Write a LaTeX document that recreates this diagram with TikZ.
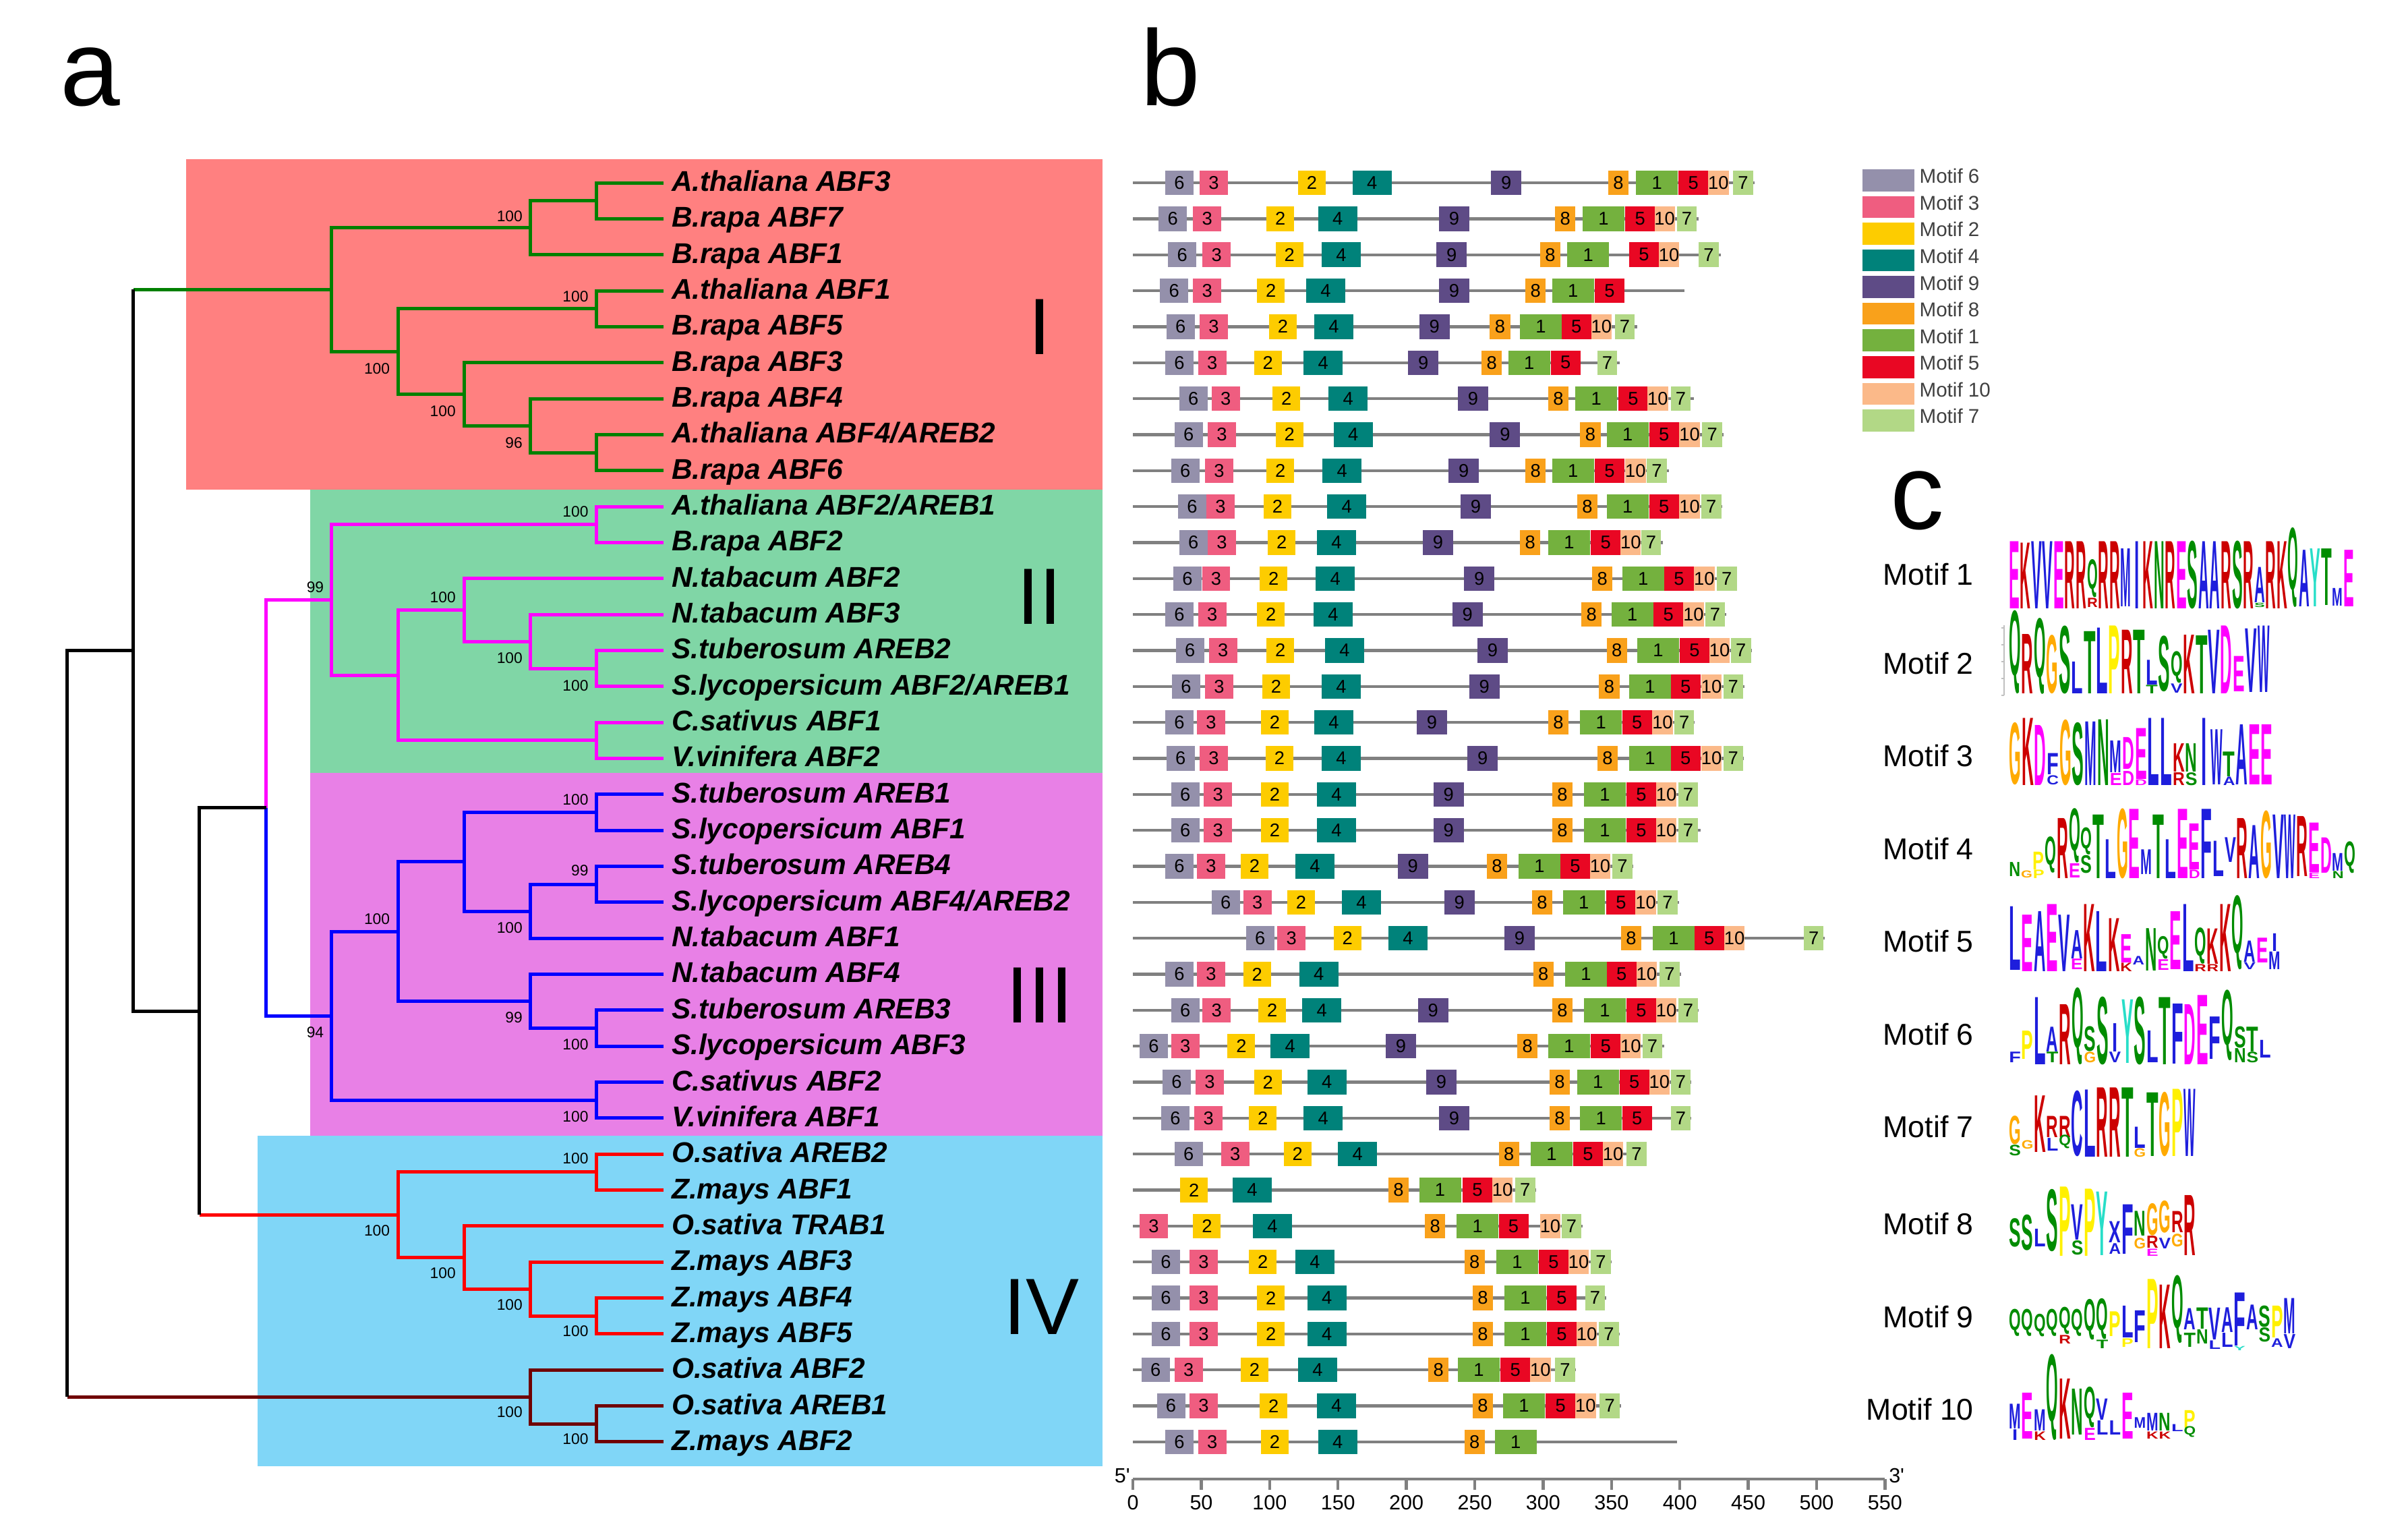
\documentclass[tikz,border=0pt]{standalone}
\usepackage{fontspec}
\setmainfont{Liberation Sans}
\usepackage{graphicx}
\usetikzlibrary{calc}
% clade backgrounds
\definecolor{cI}{RGB}{255,128,128}
\definecolor{cII}{RGB}{128,214,166}
\definecolor{cIII}{RGB}{232,128,230}
\definecolor{cIV}{RGB}{128,214,247}
% tree colours
\definecolor{tgreen}{RGB}{0,128,0}
\definecolor{tmag}{RGB}{255,0,255}
\definecolor{tblue}{RGB}{0,0,255}
\definecolor{tred}{RGB}{255,0,0}
\definecolor{tdark}{RGB}{112,0,0}
% motif colours
\definecolor{mc1}{RGB}{116,177,62}
\definecolor{mc2}{RGB}{253,204,0}
\definecolor{mc3}{RGB}{239,93,128}
\definecolor{mc4}{RGB}{0,130,122}
\definecolor{mc5}{RGB}{233,7,35}
\definecolor{mc6}{RGB}{148,144,171}
\definecolor{mc7}{RGB}{178,216,134}
\definecolor{mc8}{RGB}{249,161,27}
\definecolor{mc9}{RGB}{94,75,134}
\definecolor{mc10}{RGB}{251,185,137}
\definecolor{mgray}{RGB}{128,128,128}
\definecolor{legtext}{RGB}{64,64,64}
% logo colours
\definecolor{lgblue}{RGB}{30,30,220}
\definecolor{lggreen}{RGB}{0,140,0}
\definecolor{lgmag}{RGB}{255,0,255}
\definecolor{lgred}{RGB}{204,0,0}
\colorlet{lgA}{lgblue}\colorlet{lgC}{lgblue}\colorlet{lgF}{lgblue}\colorlet{lgI}{lgblue}
\colorlet{lgL}{lgblue}\colorlet{lgM}{lgblue}\colorlet{lgV}{lgblue}\colorlet{lgW}{lgblue}\colorlet{lgX}{lgblue}
\colorlet{lgN}{lggreen}\colorlet{lgQ}{lggreen}\colorlet{lgS}{lggreen}\colorlet{lgT}{lggreen}
\colorlet{lgD}{lgmag}\colorlet{lgE}{lgmag}
\colorlet{lgK}{lgred}\colorlet{lgR}{lgred}
\definecolor{lgG}{RGB}{255,170,0}
\definecolor{lgP}{RGB}{255,240,0}
\definecolor{lgY}{RGB}{40,222,200}
\definecolor{lgH}{RGB}{255,160,160}

\tikzset{
  tree/.style={line width=1.1pt},
  leaflab/.style={anchor=base west, inner sep=0pt, font=\fontsize{9.3}{11}\selectfont\bfseries\itshape},
  boot/.style={anchor=east, inner sep=0pt, font=\fontsize{5}{6}\selectfont},
  roman/.style={inner sep=0pt, font=\fontsize{26}{30}\selectfont},
  panel/.style={anchor=base west, inner sep=0pt, font=\fontsize{35}{40}\selectfont},
  mline/.style={draw=mgray, line width=0.95pt},
  mnum/.style={inner sep=0pt, font=\fontsize{6}{7}\selectfont},
  axlab/.style={inner sep=0pt, font=\fontsize{6.7}{8}\selectfont},
  leg/.style={anchor=base west, inner sep=0pt, text=legtext, font=\fontsize{6.5}{8}\selectfont},
  mlab/.style={anchor=base east, inner sep=0pt, font=\fontsize{9.8}{12}\selectfont},
  lgl/.style={inner sep=0pt, outer sep=0pt, anchor=south west}
}

\newcommand\mrow[3]{%
  \draw[mline] (737.7,{ry(#1)}) -- (#2,{ry(#1)});
  \foreach \m/\x in {#3}{%
    \fill[fill=mc\m] (\x,{ry(#1)-8}) rectangle ({\x+mw(\m)},{ry(#1)+8});
    \node[mnum] (b#1m\m) at ({\x+mw(\m)/2},{ry(#1)}) {\m};
  }}

\def\lgtmpI{I}
\newcommand\lgletter[1]{\edef\lgtmpa{#1}\ifx\lgtmpa\lgtmpI\makebox[0.6em]{I}\else#1\fi}
\newcommand\seqlogo[5]{%
  \pgfmathsetmacro\lgw{#4*0.5*0.95}%
  \foreach \lt/\lb/\lh [count=\i from 0] in {#5}{%
    \pgfmathsetmacro\hh{\lh*23}%
    \node[lgl] (#1-\i) at ({#2+(\i+0.025)*#4},{#3-\lb*46}) {\resizebox{\lgw pt}{\hh pt}{\bfseries\color{lg\lt}\lgletter{\lt}}};
  }}
\newcommand\lgx[5]{%
  \pgfmathsetmacro\lgw{#4*0.5*0.95}%
  \foreach \lt/\lc/\lb/\lh [count=\i] in {#5}{%
    \pgfmathsetmacro\hh{\lh*23}%
    \node[lgl] (#1x-\i) at ({#2+(\lc+0.025)*#4},{#3-\lb*46}) {\resizebox{\lgw pt}{\hh pt}{\bfseries\color{lg\lt}\lgletter{\lt}}};
  }}

\begin{document}
\begin{tikzpicture}[x=0.5pt,y=-0.5pt,
  declare function={ry(\q)=119+(\q-1)*23.42;
    mw(\q)=(\q==1)*27.2+(\q==2)*18+(\q==3)*18.4+(\q==4)*25.5+(\q==5)*19.3+(\q==6)*18.4+(\q==7)*13+(\q==8)*13.3+(\q==9)*19.8+(\q==10)*13.3;}]
\useasboundingbox (0,0) rectangle (1568,998);

% ---------- panel labels
\node[panel] (pa) at (39,68.5) {a};
\node[panel] (pb) at (742.5,68.5) {b};
\node[panel] (pc) at (1230.7,344.5) {c};

% ---------- clade backgrounds
\fill[cI] (121.1,103.7) rectangle (718,318.7);
\fill[cII] (201.9,318.7) rectangle (718,503);
\fill[cIII] (201.9,503) rectangle (718,739.5);
\fill[cIV] (167.7,739.5) rectangle (718,954.6);

\node[roman] (rI) at (677,212.8) {I};
\node[roman] (rII) at (677,388.6) {II};
\node[roman] (rIII) at (677,648) {III};
\node[roman] (rIV) at (678,851) {IV};

% ---------- leaves
\foreach \i in {1,...,36} \coordinate (l\i) at (432.1,{ry(\i)});
\foreach \lbl [count=\i] in {A.thaliana ABF3,B.rapa ABF7,B.rapa ABF1,A.thaliana ABF1,B.rapa ABF5,B.rapa ABF3,B.rapa ABF4,A.thaliana ABF4/AREB2,B.rapa ABF6,A.thaliana ABF2/AREB1,B.rapa ABF2,N.tabacum ABF2,N.tabacum ABF3,S.tuberosum AREB2,S.lycopersicum ABF2/AREB1,C.sativus ABF1,V.vinifera ABF2,S.tuberosum AREB1,S.lycopersicum ABF1,S.tuberosum AREB4,S.lycopersicum ABF4/AREB2,N.tabacum ABF1,N.tabacum ABF4,S.tuberosum AREB3,S.lycopersicum ABF3,C.sativus ABF2,V.vinifera ABF1,O.sativa AREB2,Z.mays ABF1,O.sativa TRAB1,Z.mays ABF3,Z.mays ABF4,Z.mays ABF5,O.sativa ABF2,O.sativa AREB1,Z.mays ABF2}
  \node[leaflab] (t\i) at (437,{ry(\i)+5.5}) {\lbl};

% ---------- internal nodes
\coordinate (nA) at (388.2,130.71);
\coordinate (nB) at (345.2,148.28);
\coordinate (nC) at (388.2,200.97);
\coordinate (nD) at (388.2,294.65);
\coordinate (nE) at (345.2,277.09);
\coordinate (nF) at (302.2,256.6);
\coordinate (nG) at (259.2,228.78);
\coordinate (nH) at (215.8,188.53);
\coordinate (nI) at (388.2,341.49);
\coordinate (nJ) at (388.2,435.17);
\coordinate (nK) at (345.2,417.61);
\coordinate (nL) at (302.2,397.11);
\coordinate (nM) at (388.2,482.01);
\coordinate (nN) at (259.2,439.56);
\coordinate (nO) at (215.8,390.53);
\coordinate (nP) at (388.2,528.85);
\coordinate (nQ) at (388.2,575.69);
\coordinate (nR) at (345.2,593.26);
\coordinate (nS) at (302.2,561.06);
\coordinate (nT) at (388.2,669.37);
\coordinate (nU) at (345.2,651.81);
\coordinate (nV) at (259.2,606.44);
\coordinate (nW) at (388.2,716.21);
\coordinate (nX) at (215.8,661.33);
\coordinate (nY) at (173.3,525.93);
\coordinate (nZa) at (388.2,763.05);
\coordinate (nZb) at (388.2,856.73);
\coordinate (nZc) at (345.2,839.17);
\coordinate (nZd) at (302.2,818.67);
\coordinate (nZe) at (259.2,790.86);
\coordinate (nDa) at (388.2,926.99);
\coordinate (nDb) at (345.2,909.43);
\coordinate (N2) at (129.9,658.4);
\coordinate (N1) at (86.9,423.47);
\coordinate (R0) at (43.9,666.45);

% ---------- tree branches
\draw[tree,tgreen] (nH) |- (nB) (nH) |- (nG) (nB) |- (nA) (nB) |- (l3) (nA) |- (l1) (nA) |- (l2)
  (nG) |- (nC) (nG) |- (nF) (nC) |- (l4) (nC) |- (l5) (nF) |- (l6) (nF) |- (nE)
  (nE) |- (l7) (nE) |- (nD) (nD) |- (l8) (nD) |- (l9) (nH -| N1) -- (nH);
\draw[tree,tmag] (nY) |- (nO) (nO) |- (nI) (nO) |- (nN) (nI) |- (l10) (nI) |- (l11)
  (nN) |- (nL) (nN) |- (nM) (nL) |- (l12) (nL) |- (nK) (nK) |- (l13) (nK) |- (nJ)
  (nJ) |- (l14) (nJ) |- (l15) (nM) |- (l16) (nM) |- (l17);
\draw[tree,tblue] (nY) |- (nX) (nX) |- (nV) (nX) |- (nW) (nV) |- (nS) (nV) |- (nU)
  (nS) |- (nP) (nS) |- (nR) (nP) |- (l18) (nP) |- (l19) (nR) |- (nQ) (nR) |- (l22)
  (nQ) |- (l20) (nQ) |- (l21) (nU) |- (l23) (nU) |- (nT) (nT) |- (l24) (nT) |- (l25)
  (nW) |- (l26) (nW) |- (l27);
\draw[tree,tred] (nZe -| N2) -- (nZe) (nZe) |- (nZa) (nZe) |- (nZd) (nZa) |- (l28) (nZa) |- (l29)
  (nZd) |- (l30) (nZd) |- (nZc) (nZc) |- (l31) (nZc) |- (nZb) (nZb) |- (l32) (nZb) |- (l33);
\draw[tree,tdark] (nDb -| R0) -- (nDb) (nDb) |- (l34) (nDb) |- (nDa) (nDa) |- (l35) (nDa) |- (l36);
\draw[tree,black] (nH -| N1) -- (N1) -- (N2 -| N1) -- (N2);
\draw[tree,black] (nY) -- (nY -| N2) -- (nZe -| N2);
\draw[tree,black] (N1) -- (N1 -| R0) -- (nDb -| R0);

% ---------- bootstrap values
\foreach \x/\y/\v [count=\i] in {340.6/140.8/100,383.5/193.2/100,254.2/239.9/100,297.1/267.6/100,340.6/288.5/96,
  383.5/333.3/100,211.2/382.4/99,297.1/389/100,340.6/428.5/100,383.5/446.2/100,
  383.5/520.7/100,383.5/566.9/99,254.2/598.3/100,340.6/604.1/100,340.6/662.6/99,211.2/672/94,383.5/679.8/100,383.5/726.9/100,
  383.5/754.3/100,254.2/801.3/100,297.1/828.8/100,340.6/849.5/100,383.5/866.4/100,340.6/919.4/100,383.5/937/100}
  \node[boot] (bs\i) at (\x,\y) {\v};

% ---------- motif rows
\mrow{1}{1142.3}{6/758.7,3/781.1,2/845.2,4/880.7,9/970.9,8/1047.1,1/1065.3,5/1093,10/1112.3,7/1128.5}
\mrow{2}{1105.9}{6/754.5,3/776.9,2/824.7,4/858.3,9/937,8/1012.6,1/1030.5,5/1058.3,10/1077.3,7/1091.9}
\mrow{3}{1120.7}{6/760.6,3/783,2/830.6,4/860.6,9/935.3,8/1002.8,1/1020.5,5/1060.8,10/1080.1,7/1106.1}
\mrow{4}{1096.9}{6/755.3,3/776.9,2/818.6,4/850.5,9/937,8/993.3,1/1010.7,5/1038.4}
\mrow{5}{1066.1}{6/759.5,3/781.1,2/826.4,4/855.8,9/924.1,8/970.1,1/989.7,5/1016.8,10/1036.1,7/1051.5}
\mrow{6}{1054.9}{6/758.7,3/780.2,2/816.6,4/848.8,9/916.9,8/964.7,1/982.1,5/1009.8,7/1040.1}
\mrow{7}{1103.1}{6/767.9,3/788.9,2/828.7,4/865.1,9/949.3,8/1008.1,1/1025.8,5/1053.8,10/1072.8,7/1087.9}
\mrow{8}{1122.1}{6/764.8,3/786.4,2/830.6,4/868.4,9/970.1,8/1028.9,1/1046.2,5/1073.9,10/1093.5,7/1108.4}
\mrow{9}{1086.8}{6/762.6,3/784.7,2/824.7,4/861.1,9/943.2,8/993.3,1/1010.7,5/1038.4,10/1058.3,7/1072.3}
\mrow{10}{1121.5}{6/767.1,3/785.5,2/822.8,4/864.2,9/951,8/1026.9,1/1046.2,5/1073.9,10/1093.5,7/1107.8}
\mrow{11}{1082.9}{6/767.9,3/786.4,2/825.6,4/857.5,9/926.4,8/989.7,1/1008.1,5/1035.9,10/1055.2,7/1068.6}
\mrow{12}{1131.1}{6/764,3/782.7,2/820.3,4/856.7,9/953.3,8/1036.7,1/1056.3,5/1083.7,10/1103.1,7/1117.9}
\mrow{13}{1124.1}{6/758.7,3/780.2,2/818.6,4/855.3,9/945.7,8/1029.7,1/1049.3,5/1076.7,10/1096.1,7/1110.3}
\mrow{14}{1140.9}{6/765.7,3/787.2,2/824.7,4/862.8,9/962,8/1046.2,1/1066.1,5/1093.8,10/1113.1,7/1127.1}
\mrow{15}{1136.1}{6/763.1,3/784.7,2/822,4/860.6,9/956.6,8/1041.2,1/1060.8,5/1087.9,10/1107.8,7/1122.1}
\mrow{16}{1103.6}{6/758.7,3/779.4,2/821.1,4/855.8,9/922.5,8/1008.1,1/1028.9,5/1056.3,10/1075.9,7/1090.2}
\mrow{17}{1135.3}{6/759.5,3/781.1,2/824.2,4/860.6,9/955.5,8/1040.1,1/1060.8,5/1087.9,10/1107.8,7/1122.1}
\mrow{18}{1105.6}{6/762.6,3/783.9,2/821.1,4/857.5,9/933.4,8/1010.7,1/1031.4,5/1059.1,10/1078.4,7/1092.7}
\mrow{19}{1107.3}{6/762.6,3/783.9,2/821.1,4/857.5,9/933.4,8/1010.7,1/1031.4,5/1059.1,10/1078.4,7/1092.7}
\mrow{20}{1063.3}{6/758.7,3/779.4,2/807.9,4/843.5,9/910.1,8/968.1,1/988.8,5/1016,10/1035.3,7/1049.9}
\mrow{21}{1093.5}{6/788.9,3/809.6,2/838.2,4/873.7,9/940.4,8/997.5,1/1017.7,5/1045.9,10/1065,7/1079.3}
\mrow{22}{1188}{6/811.3,3/831.7,2/868.4,4/904,9/979.6,8/1055.5,1/1076.2,5/1103.3,10/1122.7,7/1174.5}
\mrow{23}{1094.7}{6/758.7,3/779.4,2/809.6,4/846,8/998.3,1/1019.1,5/1046.2,10/1065.5,7/1080.7}
\mrow{24}{1105.9}{6/762.6,3/783,2/819.4,4/848,9/923.3,8/1010.7,1/1031.4,5/1059.1,10/1078.4,7/1092.7}
\mrow{25}{1083.5}{6/742.1,3/762.6,2/799.3,4/827.3,9/902.3,8/988,1/1008.1,5/1035.9,10/1055.2,7/1069.5}
\mrow{26}{1101.4}{6/757,3/778.5,2/816.6,4/851.3,9/928.6,8/1009,1/1026.9,5/1054.6,10/1073.9,7/1087.9}
\mrow{27}{1101.4}{6/756.1,3/777.7,2/813.3,4/848.8,9/937,8/1009,1/1028.9,5/1056.3,7/1087.9}
\mrow{28}{1071.7}{6/764.8,3/795.1,2/835.9,4/871.2,8/975.9,1/996.7,5/1024.4,10/1043.7,7/1059.1}
\mrow{29}{1000.3}{2/768.5,4/802.6,8/904,1/924.1,5/952.4,10/971.7,7/986.6}
\mrow{30}{1030.5}{3/742.1,2/776.9,4/815.8,8/927.8,1/948.5,5/975.9,10/1002.8,7/1016.8}
\mrow{31}{1049.3}{6/750,3/774.6,2/813.3,4/843.5,8/953.5,1/974.3,5/1002,10/1021.3,7/1035.9}
\mrow{32}{1045.9}{6/750,3/774.6,2/818.6,4/851.3,8/958.9,1/979.6,5/1007.3,7/1032.2}
\mrow{33}{1054.9}{6/750,3/774.6,2/818.6,4/851.3,8/958.9,1/979.6,5/1007.3,10/1026.6,7/1041.2}
\mrow{34}{1026.1}{6/743.3,3/764.8,2/807.9,4/845.2,8/930,1/949.3,5/977.1,10/996.4,7/1012.6}
\mrow{35}{1055.5}{6/753.3,3/774.6,2/820.3,4/857.5,8/958.9,1/978.7,5/1006.5,10/1025.8,7/1041.7}
\mrow{36}{1092.1}{6/758.7,3/780.2,2/821.1,4/858.3,8/953.5,1/973.4}

% ---------- axis
\draw[mline] (737.7,963) -- (1227.4,963);
\foreach \k in {0,...,11}{
  \draw[mline] ({737.7+\k*44.52},963) -- ({737.7+\k*44.52},970);
  \pgfmathtruncatemacro\tv{\k*50}
  \node[axlab] (ax\k) at ({737.7+\k*44.52},978.2) {\tv};
}
\node[axlab] (five) at (730.8,960.8) {5\textquotesingle};
\node[axlab] (three) at (1235,960.8) {3\textquotesingle};

% ---------- legend
\foreach \m [count=\j from 0] in {6,3,2,4,9,8,1,5,10,7}{
  \fill[fill=mc\m] (1212.8,{110.2+\j*17.38}) rectangle (1246.6,{124.5+\j*17.38});
  \node[leg] (leg\m) at (1249.5,{119.3+\j*17.38}) {Motif \m};
}

% ---------- panel c labels
\foreach \m/\b in {1/381,2/438.9,3/498.9,4/559.8,5/619.8,6/680.3,7/740.5,8/803.7,9/864.4,10/924.6}
  \node[mlab] (ml\m) at (1285.5,\b) {Motif \m};

% ---------- sequence logos
\seqlogo{lo1}{1308}{396.3}{7.26}{E/0/.95,K/0/.93,V/0/.95,V/0/.95,E/0/.95,R/0/.95,R/0/.95,Q/.16/.42,R/0/.95,R/0/.95,M/.03/.82,I/0/.95,K/0/.95,N/0/.95,R/0/.95,E/0/.95,S/0/.95,A/0/.95,A/0/.95,R/0/.95,S/0/.95,R/0/.95,A/.09/.5,R/0/.95,K/0/.95,Q/.02/.88,A/.03/.8,Y/.03/.82,T/.05/.8,M/.04/.25,E/.03/.8}
\lgx{lo1}{1308}{396.3}{7.26}{R/7/.02/.13,S/22/.02/.06}
\draw[mgray!50,line width=0.4pt] (1305,407) -- (1305,452.7);
\foreach \k in {0,...,4} \draw[mgray!50,line width=0.4pt] (1303,{452.7-\k*11}) -- (1305,{452.7-\k*11});
\seqlogo{lo2}{1308}{452.7}{8.1}{Q/.02/.92,R/.02/.84,Q/.02/.84,G/.02/.82,S/.02/.95,L/.02/.45,T/.02/.88,L/.02/.93,P/.02/.96,R/.02/.9,T/.02/.9,L/.15/.35,S/.05/.78,Q/.17/.35,K/.02/.83,T/.02/.82,V/.02/.9,D/.02/.96,E/.05/.5,V/.04/.9,W/.04/.94}
\lgx{lo2}{1308}{452.7}{8.1}{T/11/.02/.12,V/13/.03/.13}
\seqlogo{lo3}{1308}{512.3}{8.2}{G/.03/.87,K/.02/.95,D/.02/.85,F/.17/.3,G/.02/.92,S/.02/.88,M/.02/.9,N/.02/.93,M/.2/.45,D/.25/.45,E/.11/.72,L/.02/.95,L/.02/.95,K/.21/.4,N/.21/.4,I/.02/.95,W/.03/.78,T/.15/.35,A/.03/.85,E/.03/.85,E/.03/.85}
\lgx{lo3}{1308}{512.3}{8.2}{C/3/.03/.13,E/8/.02/.17,D/9/.02/.2,D/10/.02/.08,R/13/.02/.18,S/14/.02/.18,A/17/.02/.12}
\seqlogo{lo4}{1308}{573}{7.8}{N/.05/.2,G/.03/.1,P/.15/.25,Q/.1/.4,R/.02/.85,Q/.25/.6,S/.1/.25,T/.02/.9,L/.02/.55,G/.02/.98,E/.02/.98,M/.08/.35,T/.02/.9,L/.02/.55,E/.02/.98,E/.15/.65,F/.02/.98,L/.05/.5,V/.25/.35,R/.02/.85,A/.02/.75,G/.02/.95,V/.02/.9,W/.02/.9,R/.05/.85,E/.11/.7,D/.1/.5,M/.13/.25,Q/.1/.35}
\lgx{lo4}{1308}{573}{7.8}{Q/6/.36/.3,E/5/.03/.2,D/15/.02/.12,P/2/.02/.12,E/25/.02/.08,N/27/.02/.1}
\seqlogo{lo5}{1308}{633.6}{8.05}{L/.04/.9,E/.02/.8,A/.02/.85,E/.02/.95,V/.02/.8,A/.21/.4,K/.02/.95,L/.02/.85,K/.02/.75,E/.15/.4,A/.12/.12,N/.03/.6,Q/.2/.25,E/.05/.82,L/.02/.95,Q/.13/.4,K/.13/.5,K/.02/.95,Q/.05/.82,A/.16/.3,E/.15/.35,M/.05/.25}
\lgx{lo5}{1308}{633.6}{8.05}{E/5/.05/.15,K/9/.02/.12,E/12/.04/.15,R/15/.02/.1,R/16/.02/.1,I/21/.31/.25,V/19/.05/.1}
\seqlogo{lo6}{1308}{694.2}{8.14}{F/.05/.15,P/.1/.4,L/.02/.95,A/.21/.35,R/.02/.85,Q/.02/.85,S/.21/.35,S/.02/.95,I/.21/.4,Y/.04/.9,S/.02/.95,L/.05/.45,T/.02/.95,F/.03/.85,D/.02/.85,E/.02/.98,F/.1/.6,Q/.08/.78,S/.26/.3,T/.21/.35,L/.12/.25}
\lgx{lo6}{1308}{694.2}{8.14}{T/3/.05/.15,G/6/.05/.15,V/8/.05/.15,N/18/.05/.2,S/19/.05/.15}
\seqlogo{lo7}{1308}{754.8}{8.13}{G/.21/.4,G/.15/.12,K/.1/.8,R/.31/.3,R/.31/.3,C/.04/.92,L/.03/.95,R/.03/.98,R/.03/.98,T/.03/.98,L/.16/.3,T/.04/.9,G/.04/.9,P/.04/.95,W/.04/.95}
\lgx{lo7}{1308}{754.8}{8.13}{L/3/.12/.18,Q/4/.15/.15,G/10/.03/.12,S/0/.05/.15}
\seqlogo{lo8}{1308}{818.6}{8.13}{S/.15/.4,S/.1/.5,L/.15/.25,S/.08/.87,P/.02/.98,V/.25/.5,P/.02/.95,Y/.03/.9,X/.21/.3,F/.05/.7,N/.3/.35,G/.31/.45,G/.35/.45,R/.35/.3,R/.03/.85}
\lgx{lo8}{1308}{818.6}{8.13}{S/5/.03/.2,A/8/.05/.15,G/10/.12/.15,R/11/.13/.17,V/12/.12/.15,G/13/.15/.18,E/11/.02/.1}
\seqlogo{lo9}{1308}{879.3}{8.13}{Q/.2/.3,Q/.2/.3,Q/.2/.25,Q/.2/.3,Q/.23/.3,Q/.2/.3,Q/.15/.45,Q/.16/.45,P/.2/.35,L/.18/.45,F/.12/.45,P/.03/.98,K/.03/.9,Q/.1/.75,A/.3/.3,T/.31/.3,V/.15/.45,A/.26/.35,F/.07/.75,A/.3/.35,S/.33/.3,P/.18/.45,M/.24/.5}
\lgx{lo9}{1308}{879.3}{8.13}{R/4/.1/.12,T/7/.03/.12,P/9/.05/.12,T/14/.05/.2,N/15/.1/.2,L/16/.02/.12,L/17/.05/.2,Y/18/0/.06,S/20/.12/.2,A/21/.05/.12,V/22/.03/.2}
\seqlogo{lo10}{1308}{938.9}{8.13}{M/.19/.35,E/.05/.65,M/.16/.3,Q/.03/.95,K/.05/.85,N/.1/.65,Q/.21/.45,V/.31/.3,L/.1/.2,E/.05/.65,M/.2/.15,M/.16/.25,N/.16/.25,L/.15/.1,P/.2/.25}
\lgx{lo10}{1308}{938.9}{8.13}{I/0/.03/.15,K/2/.03/.12,E/6/.03/.17,L/7/.1/.2,K/11/.05/.1,K/12/.05/.1,Q/14/.07/.12}
\end{tikzpicture}
\end{document}
